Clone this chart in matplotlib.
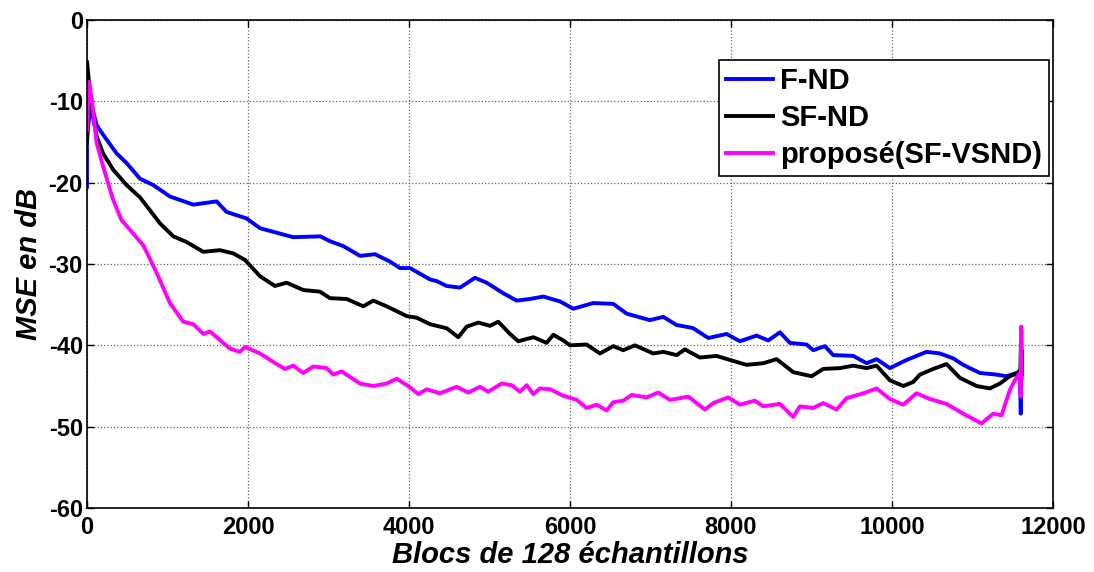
import matplotlib
matplotlib.use("Agg")
import matplotlib.pyplot as plt

# values (x = bloc index, y = MSE in dB)
fnd_x = [0, 0, 15, 50, 120, 200, 368, 493, 658, 824, 1031, 1321, 1610, 1735, 1983, 2150, 2560,
         2900, 3019, 3185, 3392, 3578, 3764, 3888, 4013, 4261, 4344, 4468, 4634, 4820, 4965,
         5172, 5337, 5503, 5669, 5876, 6041, 6290, 6538, 6703, 6993, 7159, 7325, 7490, 7532,
         7718, 7946, 8111, 8318, 8463, 8608, 8732, 8939, 9022, 9167, 9270, 9519, 9685, 9809,
         9974, 10181, 10430, 10595, 10761, 10885, 11092, 11299, 11423, 11547, 11590, 11600,
         11610, 11615]
fnd_y = [-20.5, -15.0, -13.0, -10.2, -12.9, -14.1, -16.4, -17.6, -19.5, -20.3, -21.7, -22.7,
         -22.3, -23.6, -24.4, -25.6, -26.7, -26.6, -27.2, -27.8, -29.0, -28.8, -29.7, -30.5,
         -30.5, -31.9, -32.1, -32.7, -32.9, -31.7, -32.3, -33.6, -34.5, -34.3, -34.0, -34.6,
         -35.5, -34.8, -34.9, -36.1, -36.9, -36.5, -37.5, -37.8, -37.9, -39.1, -38.6, -39.5,
         -38.8, -39.4, -38.4, -39.7, -39.9, -40.6, -40.1, -41.2, -41.3, -42.2, -41.7, -42.8,
         -41.8, -40.8, -41.0, -41.6, -42.4, -43.4, -43.6, -43.8, -43.4, -44.0, -48.4, -40.6,
         -43.5]

sfnd_x = [0, 0, 60, 120, 200, 325, 493, 658, 783, 907, 1073, 1238, 1445, 1652, 1818, 1963,
          2149, 2335, 2480, 2687, 2894, 3019, 3226, 3433, 3557, 3723, 3971, 4095, 4261, 4468,
          4613, 4717, 4862, 5006, 5110, 5255, 5358, 5545, 5710, 5793, 5917, 6000, 6207, 6372,
          6538, 6662, 6807, 7035, 7159, 7325, 7428, 7614, 7821, 7987, 8194, 8401, 8567, 8774,
          9001, 9146, 9353, 9519, 9685, 9809, 9974, 10140, 10264, 10347, 10513, 10678, 10844,
          11051, 11216, 11340, 11464, 11547, 11595, 11605, 11612]
sfnd_y = [-15.0, -5.1, -11.1, -14.3, -16.4, -18.4, -20.3, -21.8, -23.4, -25.0, -26.6, -27.3,
          -28.5, -28.3, -28.7, -29.5, -31.5, -32.7, -32.3, -33.2, -33.4, -34.2, -34.3, -35.2,
          -34.5, -35.2, -36.4, -36.6, -37.4, -37.9, -39.0, -37.7, -37.2, -37.6, -37.1, -38.6,
          -39.5, -39.0, -39.7, -38.7, -39.4, -40.0, -39.9, -41.0, -40.1, -40.6, -40.0, -41.0,
          -40.8, -41.2, -40.5, -41.5, -41.3, -41.8, -42.4, -42.2, -41.7, -43.3, -43.8, -42.9,
          -42.8, -42.5, -42.8, -42.5, -44.3, -45.0, -44.5, -43.6, -42.9, -42.3, -44.0, -45.0,
          -45.3, -44.7, -43.8, -43.5, -43.0, -38.1, -43.5]

prop_x = [0, 25, 60, 120, 200, 325, 430, 535, 700, 866, 1031, 1197, 1321, 1445, 1528, 1776,
          1900, 1963, 2149, 2356, 2460, 2563, 2687, 2811, 2977, 3060, 3164, 3392, 3557, 3723,
          3847, 3991, 4116, 4220, 4385, 4592, 4737, 4882, 4986, 5151, 5275, 5379, 5462, 5545,
          5627, 5752, 5917, 6083, 6207, 6331, 6455, 6538, 6662, 6766, 6952, 7097, 7242, 7366,
          7470, 7676, 7780, 7966, 8111, 8297, 8401, 8608, 8774, 8856, 9022, 9146, 9312, 9436,
          9643, 9809, 9974, 10140, 10305, 10471, 10678, 10885, 11113, 11258, 11361, 11464,
          11526, 11580, 11600, 11606, 11612]
prop_y = [-13.5, -7.6, -9.8, -15.1, -18.0, -22.1, -24.6, -25.8, -27.7, -31.1, -34.8, -37.1,
          -37.4, -38.6, -38.3, -40.4, -40.8, -40.2, -41.0, -42.3, -42.9, -42.5, -43.4, -42.6,
          -42.8, -43.6, -43.2, -44.7, -45.0, -44.7, -44.1, -45.0, -46.0, -45.4, -45.9, -45.1,
          -45.8, -45.1, -45.7, -44.7, -44.9, -45.7, -44.9, -46.0, -45.3, -45.4, -46.2, -46.7,
          -47.7, -47.3, -48.0, -47.0, -46.8, -46.1, -46.4, -45.8, -46.7, -46.5, -46.3, -47.9,
          -47.1, -46.4, -47.3, -46.8, -47.5, -47.2, -48.8, -47.5, -47.7, -47.1, -47.9, -46.5,
          -45.9, -45.3, -46.6, -47.3, -45.9, -46.6, -47.2, -48.4, -49.6, -48.4, -48.6, -45.5,
          -44.3, -43.5, -46.3, -37.7, -44.0]

plt.rcParams["font.family"] = ["Liberation Sans", "DejaVu Sans"]
plt.rcParams["axes.unicode_minus"] = False

fig = plt.figure(figsize=(10.94, 5.72), dpi=100)
ax = fig.add_axes([0.0795, 0.1119, 0.883, 0.8531])

ax.plot(fnd_x, fnd_y, color="#0000ff", lw=2.8, label="F-ND")
ax.plot(sfnd_x, sfnd_y, color="black", lw=2.8, label="SF-ND")
ax.plot(prop_x, prop_y, color="#ff00ff", lw=2.8, label="proposé(SF-VSND)")

ax.set_xlim(0, 12000)
ax.set_ylim(-60, 0)
ax.set_xticks(range(0, 12001, 2000))
ax.set_yticks(range(-60, 1, 10))
ax.grid(True, linestyle=":", color="#666666", linewidth=0.9)
ax.tick_params(direction="in", top=True, right=True, length=5, width=1, labelsize=17)
ax.tick_params(axis="x", pad=6)
ax.tick_params(axis="y", pad=3)
for lab in ax.get_xticklabels() + ax.get_yticklabels():
    lab.set_fontweight("bold")
for sp in ax.spines.values():
    sp.set_linewidth(1.2)

ax.set_xlabel("Blocs de 128 échantillons", fontsize=21, fontweight="bold", style="italic", labelpad=1)
ax.set_ylabel("MSE en dB", fontsize=21, fontweight="bold", style="italic", labelpad=4)

leg = ax.legend(loc="upper right", bbox_to_anchor=(0.996, 0.918), borderaxespad=0,
                prop={"size": 21, "weight": "bold"}, fancybox=False, framealpha=1,
                handlelength=1.6, handletextpad=0.25, labelspacing=0.3, borderpad=0.25)
leg.get_frame().set_edgecolor("black")
leg.get_frame().set_linewidth(1.2)

fig.savefig("out.png", dpi=100)
